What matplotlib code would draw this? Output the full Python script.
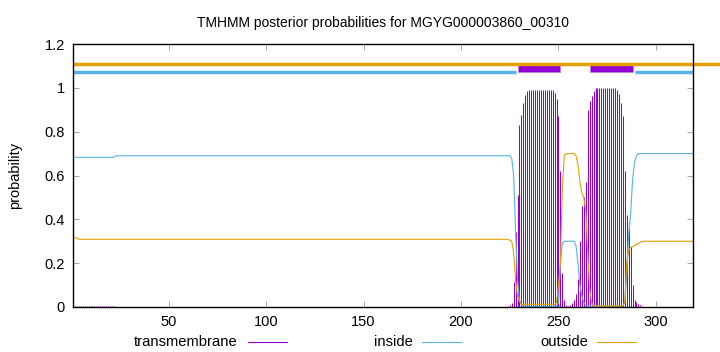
import numpy as np
import matplotlib.pyplot as plt

# TMHMM posterior probabilities
seq_len = 319
tm_segments = [(229, 251), (266, 288)]
inside_segments = [(1, 228), (289, 319)]

# flat parts: (first residue, last residue, value)
tm_flat = [(1, 22, 0.004), (23, 199, 0.0), (200, 223, 0.002), (294, 319, 0.0)]
inside_flat = [(1, 22, 0.683), (23, 224, 0.69), (291, 319, 0.70)]
outside_flat = [(1, 3, 0.315), (4, 224, 0.309), (294, 319, 0.30)]

# residue by residue through the two helices (224..293)
helix_start = 224
tm_helix = [0.005, 0.01, 0.02, 0.115, 0.34, 0.51, 0.83, 0.876, 0.93, 0.967,
            0.985, 0.99, 0.99, 0.99, 0.99, 0.99, 0.99, 0.99, 0.99, 0.99,
            0.99, 0.99, 0.99, 0.99, 0.975, 0.95, 0.87, 0.62, 0.155, 0.03,
            0.01, 0.005, 0.01, 0.02, 0.03, 0.06, 0.13, 0.30, 0.46, 0.50,
            0.57, 0.90, 0.94, 0.965, 0.985, 0.998, 0.998, 0.998, 0.998, 0.998,
            0.998, 0.998, 0.998, 0.998, 0.998, 0.998, 0.99, 0.97, 0.93, 0.87,
            0.62, 0.42, 0.39, 0.28, 0.10, 0.03, 0.025, 0.015, 0.01, 0.005]
inside_helix = [0.69, 0.69, 0.68, 0.60, 0.35, 0.12, 0.03, 0.01, 0.003, 0.003,
                0.003, 0.003, 0.003, 0.003, 0.003, 0.003, 0.003, 0.003, 0.003, 0.003,
                0.003, 0.003, 0.003, 0.003, 0.003, 0.003, 0.02, 0.20, 0.29, 0.30,
                0.30, 0.30, 0.30, 0.30, 0.30, 0.28, 0.20, 0.10, 0.05, 0.02,
                0.005, 0.005, 0.005, 0.005, 0.005, 0.005, 0.005, 0.005, 0.005, 0.005,
                0.005, 0.005, 0.005, 0.005, 0.005, 0.005, 0.005, 0.005, 0.005, 0.005,
                0.02, 0.15, 0.33, 0.42, 0.58, 0.66, 0.69, 0.70, 0.70, 0.70]
outside_helix = [0.309, 0.305, 0.30, 0.25, 0.12, 0.05, 0.025, 0.012, 0.012, 0.012,
                 0.012, 0.012, 0.012, 0.012, 0.012, 0.012, 0.012, 0.012, 0.012, 0.012,
                 0.012, 0.012, 0.012, 0.012, 0.012, 0.02, 0.10, 0.20, 0.55, 0.69,
                 0.70, 0.70, 0.70, 0.70, 0.70, 0.69, 0.65, 0.57, 0.52, 0.50,
                 0.44, 0.25, 0.08, 0.02, 0.005, 0.005, 0.005, 0.005, 0.005, 0.005,
                 0.005, 0.005, 0.005, 0.005, 0.005, 0.005, 0.005, 0.005, 0.005, 0.005,
                 0.02, 0.20, 0.26, 0.27, 0.275, 0.28, 0.285, 0.29, 0.295, 0.298]


def build(flat, helix):
    vals = np.zeros(seq_len + 1)
    for a, b, v in flat:
        vals[a:b + 1] = v
    vals[helix_start:helix_start + len(helix)] = helix
    return vals[1:]


res = np.arange(1, seq_len + 1)
tm = build(tm_flat, tm_helix)
inside = build(inside_flat, inside_helix)
outside = build(outside_flat, outside_helix)

purple = "#9400d3"
blue = "#56b4e9"
orange = "#e69f00"

plt.rcParams["font.family"] = ["Liberation Sans", "DejaVu Sans"]
plt.rcParams["font.size"] = 10

fig = plt.figure(figsize=(7.2, 3.52), dpi=100)
ax = fig.add_axes([73 / 720, 45 / 352, 620 / 720, 263 / 352])

ax.vlines(res, 0, tm, color=purple, lw=0.75)
ax.plot(res, inside, color=blue, lw=0.8)
ax.plot(res, outside, color=orange, lw=0.8)

# topology bars on top
ax.plot([1, 333], [1.11, 1.11], color=orange, lw=2.5, clip_on=False,
        solid_capstyle="butt")
for a, b in inside_segments:
    ax.plot([a, b], [1.07, 1.07], color=blue, lw=2.5, solid_capstyle="butt")
for a, b in tm_segments:
    ax.fill_between([a, b], 1.072, 1.113, color=purple, lw=0.5,
                    edgecolor="#c080e8")

ax.set_xlim(1, seq_len)
ax.set_ylim(0, 1.2)
ax.set_xticks([50, 100, 150, 200, 250, 300])
ax.set_yticks([0, 0.2, 0.4, 0.6, 0.8, 1, 1.2])
ax.set_yticklabels(["0", "0.2", "0.4", "0.6", "0.8", "1", "1.2"])
ax.tick_params(direction="in", top=True, right=True, length=4, width=0.6,
               color="#999999", labelsize=10.5, pad=6)
for s in ax.spines.values():
    s.set_linewidth(1.0)
ax.set_ylabel("probability", labelpad=16, fontsize=10.5)
ax.set_title("TMHMM posterior probabilities for MGYG000003860_00310",
             fontsize=10, pad=12)

# legend row below the axis, gnuplot style
legend = [("transmembrane", purple, 238, 248), ("inside", blue, 413, 422),
          ("outside", orange, 588, 597)]
for label, col, xt, xl in legend:
    fig.text(xt / 720, 1 - 342 / 352, label, ha="right", va="center",
             fontsize=10.6)
    fig.add_artist(plt.Line2D([xl / 720, (xl + 39) / 720],
                              [1 - 342 / 352, 1 - 342 / 352], color=col, lw=0.8))

fig.savefig("out.png", dpi=100)
